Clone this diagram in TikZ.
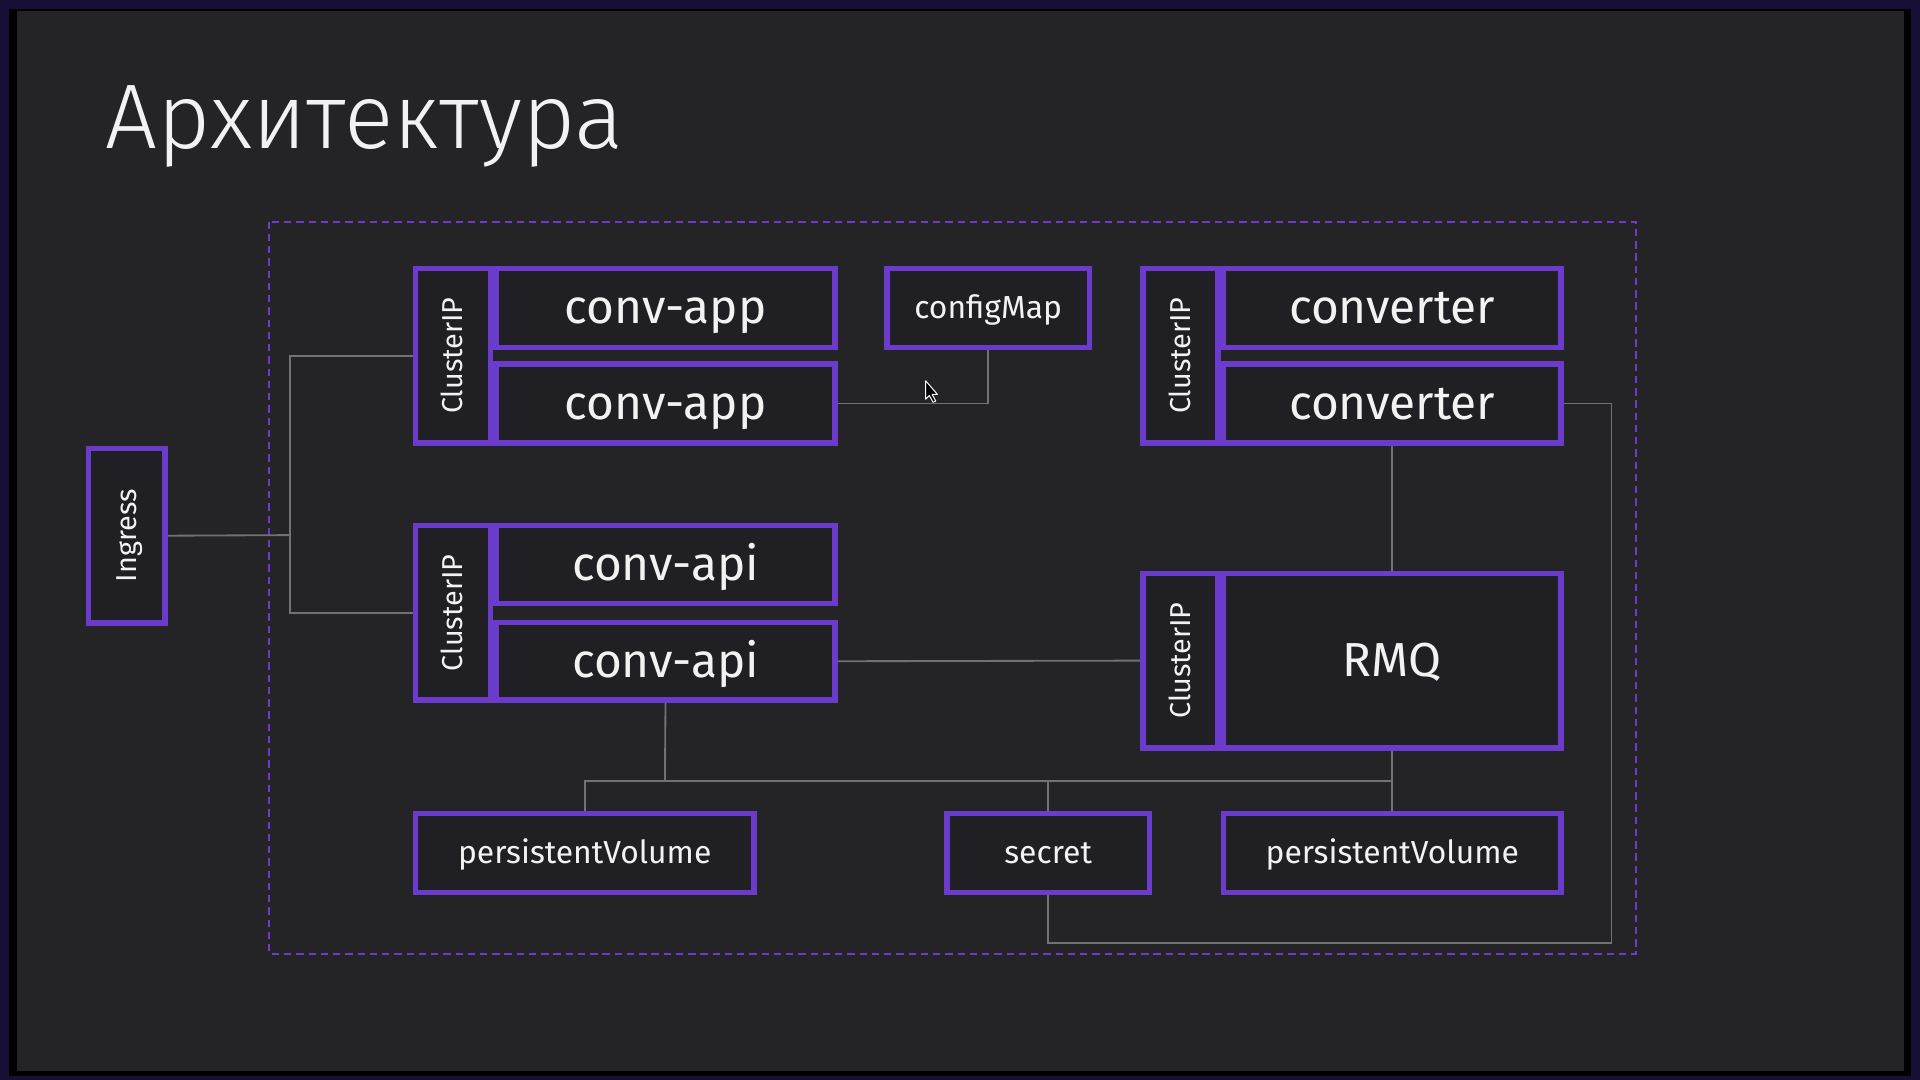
\documentclass[tikz,border=0pt]{standalone}
\usepackage{fontspec}
\setmainfont{Fira Sans}
\newfontfamily\titlefont{Fira Sans Light}
\definecolor{outer}{HTML}{170F35}
\definecolor{panel}{HTML}{242427}
\definecolor{boxfill}{HTML}{202024}
\definecolor{purp}{HTML}{6B3CCB}
\definecolor{wirec}{HTML}{727272}
\definecolor{txt}{HTML}{F2F2F2}
\pgfdeclarelayer{bg}
\pgfdeclarelayer{wires}
\pgfsetlayers{bg,wires,main}
\tikzset{
  box/.style={draw=purp, line width=4.5pt, fill=boxfill, inner sep=0pt, text=txt,
    font=\fontsize{39}{40}\selectfont},
  smalltxt/.style={font=\fontsize{26}{27}\selectfont},
  ciptxt/.style={font=\fontsize{23.5}{24}\selectfont},
  wire/.style={draw=wirec, line width=1.5pt},
  cluster/.style={draw=purp, line width=1.5pt, dash pattern=on 6pt off 4pt}
}
% strut with the font's ascent and descent, so every label sits on the same baseline
\newcommand\fstrut{\rule[-0.265em]{0pt}{1.2em}}
% \bx[style]{name}{x1}{y1}{x2}{y2}{text}
\newcommand\bx[7][]{\node[box,#1,minimum width={#5-#3-4.5},minimum height={#6-#4-4.5}] (#2) at ({(#3+#5)/2},{(#4+#6)/2}) {\fstrut#7};}
\newcommand\vtext[1]{\rotatebox{90}{\fstrut#1}}
\begin{document}
\begin{tikzpicture}[x=1pt,y=-1pt]
\useasboundingbox (0,0) rectangle (1568,882);
\begin{pgfonlayer}{bg}
  \fill[outer] (0,0) rectangle (1568,882);
  \fill[black] (7,7) rectangle (1561,879);
  \fill[panel] (14,9) rectangle (1555,875);
  \draw[cluster] (220,181) rectangle (1336,779);
\end{pgfonlayer}

\node[anchor=base west, inner sep=0pt, text=txt, font=\titlefont\fontsize{75}{75}\selectfont] (title) at (86,121) {Архитектура};

\node[box,ciptxt,minimum width={137-70-4.5},minimum height={511-364-4.5}] (ingress) at ({(70+137)/2},{(364+511)/2}) {\vtext{Ingress}};

\node[box,ciptxt,minimum width={403-337-4.5},minimum height={364-217-4.5}] (cipapp) at ({(337+403)/2},{(217+364)/2}) {\vtext{ClusterIP}};
\bx{app1}{403}{217}{684}{286}{conv-app}
\bx{app2}{403}{295}{684}{364}{conv-app}

\bx[smalltxt]{cm}{722}{217}{892}{286}{configMap}

\node[box,ciptxt,minimum width={997-931-4.5},minimum height={364-217-4.5}] (cipconv) at ({(931+997)/2},{(217+364)/2}) {\vtext{ClusterIP}};
\bx{cv1}{997}{217}{1277}{286}{converter}
\bx{cv2}{997}{295}{1277}{364}{converter}

\node[box,ciptxt,minimum width={403-337-4.5},minimum height={574-427-4.5}] (cipapi) at ({(337+403)/2},{(427+574)/2}) {\vtext{ClusterIP}};
\bx{api1}{403}{427}{684}{495}{conv-api}
\bx{api2}{403}{506}{684}{574}{conv-api}

\node[box,ciptxt,minimum width={997-931-4.5},minimum height={613-466-4.5}] (ciprmq) at ({(931+997)/2},{(466+613)/2}) {\vtext{ClusterIP}};
\bx{rmq}{997}{466}{1277}{613}{RMQ}

\bx[smalltxt]{pv1}{337}{662}{618}{731}{persistentVolume}
\bx[smalltxt]{sec}{771}{662}{941}{731}{secret}
\bx[smalltxt]{pv2}{997}{662}{1277}{731}{persistentVolume}

\coordinate (jin) at (237,437);
\coordinate (cr) at (1316,770);
\coordinate (bus) at (543,638);

\begin{pgfonlayer}{wires}
  \draw[wire] (ingress.east) -- (jin);
  \draw[wire] (cipapp.west) -| (jin);
  \draw[wire] (cipapi.west) -| (jin);
  \draw[wire] (app2.east) -| (cm.south);
  \draw[wire] (cv2.east) -| (cr) -| (sec.south);
  \draw[wire] (cv2.south) -- (rmq.north);
  \draw[wire] (api2.east) -- (ciprmq.west);
  \draw[wire] (api2.south) -- (bus);
  \draw[wire] (pv1.north) |- (bus);
  \draw[wire] (bus) -| (sec.north);
  \draw[wire] (bus) -| (rmq.south);
  \draw[wire] (pv2.north) -- (rmq.south);
\end{pgfonlayer}

% mouse pointer
\coordinate (ptr) at (756,311);
\draw[white, fill=black, line width=0.8pt, line join=round]
  (ptr) -- ++(0,15) -- ++(3,-3) -- ++(3,5.5) -- ++(2.2,-1) -- ++(-3,-5.5) -- ++(4.3,0) -- cycle;
\end{tikzpicture}
\end{document}
